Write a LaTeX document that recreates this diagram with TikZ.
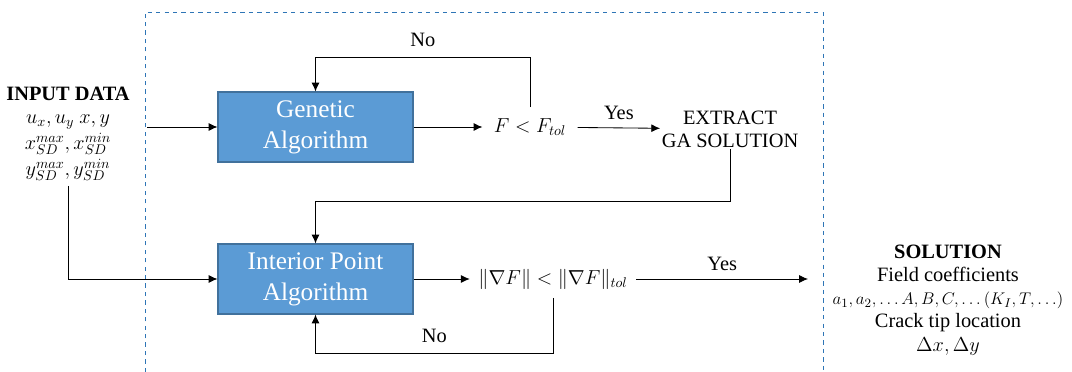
\documentclass[tikz,border=0pt]{standalone}
\usepackage{fontspec}
\setmainfont{Liberation Serif}
\usetikzlibrary{positioning, arrows.meta}
\definecolor{algoblue}{HTML}{5B9BD5}
\definecolor{algoedge}{HTML}{41719C}
\definecolor{frameblue}{HTML}{2E75B6}

\begin{document}
\begin{tikzpicture}[
    box/.style={draw=algoedge, thick, rectangle, minimum width=4.875cm, minimum height=1.75cm, align=center, fill=algoblue, text=white, font=\fontsize{18}{22}\selectfont},
    txt/.style={align=center, font=\fontsize{14.5}{16.5}\selectfont},
    arrow/.style={-{Latex[length=2.2mm, width=2mm]}, semithick}
]
\useasboundingbox (0,0) rectangle (26.8,9.3);
% Frame
\draw[frameblue, dashed, semithick] (3.625,0) -- (3.625,9.0) -- (20.575,9.0) -- (20.575,0);

% Nodes
\node[txt] (input) at (1.7, 5.95) {\textbf{INPUT DATA}\\ $u_x, u_y\ x, y$\\[2pt] $x_{SD}^{max}, x_{SD}^{min}$\\[2pt] $y_{SD}^{max}, y_{SD}^{min}$};
\coordinate (start) at (3.68, 6.125);
\node[box] (ga) at (7.8875, 6.125) {Genetic\\ Algorithm};
\node[txt, inner sep=8pt] (check1) at (13.25, 6.125) {$F < F_{tol}$};
\node[txt, inner sep=1pt] (extract) at (18.25, 6.075) {EXTRACT\\ GA SOLUTION};
\node[box] (ipa) at (7.8875, 2.325) {Interior Point\\ Algorithm};
\node[txt, inner sep=6pt] (check2) at (13.825, 2.325) {$\|\nabla F\| < \|\nabla F\|_{tol}$};
\coordinate (finish) at (20.2, 2.325);
\node[txt] (solution) at (23.7, 1.8) {\textbf{SOLUTION}\\ Field coefficients\\ {\fontsize{13}{16.5}\selectfont$a_1, a_2, \ldots A, B, C, \ldots (K_I, T, \ldots)$}\\ Crack tip location\\ $\Delta x, \Delta y$};

% Arrows
\draw[arrow] (start) -- (ga);
\draw[arrow] (input.south) |- (ipa.west);
\draw[arrow] (ga) -- (check1);
\draw[arrow] (check1) -- node[txt, above=2pt] {Yes} (extract);
\draw[arrow] (check1.north) -- ++(0,1.25) -| node[txt, pos=0.25, above=4pt] {No} (ga.north);
\draw[arrow] (extract.south) -- ++(0,-1.3) -| (ipa.north);
\draw[arrow] (ipa) -- (check2);
\draw[arrow] (check2) -- node[txt, above=2pt] {Yes} (finish);
\draw[arrow] (check2.south) -- ++(0,-1.4) -| node[txt, pos=0.25, above=4pt] {No} (ipa.south);
\end{tikzpicture}
\end{document}
